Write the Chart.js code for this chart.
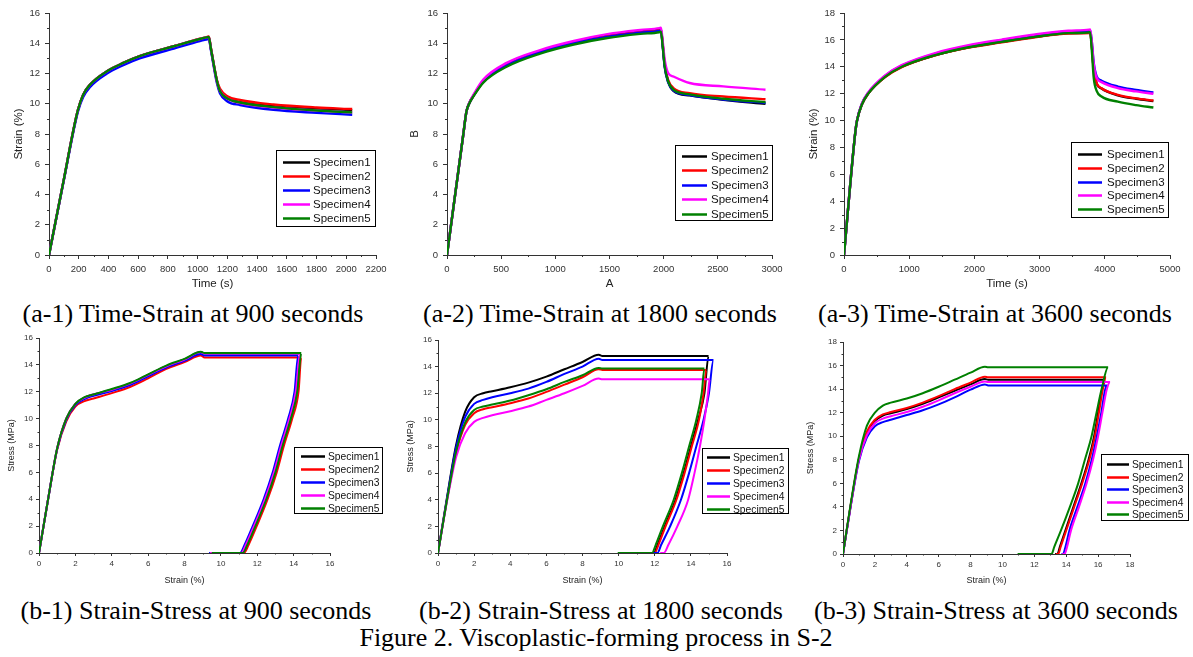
<!DOCTYPE html>
<html>
<head>
<meta charset="utf-8">
<script src="https://cdn.jsdelivr.net/npm/chart.js@4.4.1/dist/chart.umd.min.js"></script>
<style>
  body { margin: 0; background: #fff; }
  #fig { position: relative; width: 1193px; height: 657px; overflow: hidden; background: #fff; }
  #fig canvas { position: absolute; }
  .cap { position: absolute; font-family: "Liberation Serif", "Times New Roman", serif; font-size: 26px; line-height: 26px; white-space: nowrap; transform: translateX(-50%); color: #000; }
</style>
</head>
<body>
<div id="fig">
  <div class="cap" style="left:193px;top:301px">(a-1) Time-Strain at 900 seconds</div>
  <div class="cap" style="left:600px;top:301px">(a-2) Time-Strain at 1800 seconds</div>
  <div class="cap" style="left:995px;top:301px">(a-3) Time-Strain at 3600 seconds</div>
  <div class="cap" style="left:196px;top:598px">(b-1) Strain-Stress at 900 seconds</div>
  <div class="cap" style="left:601px;top:598px">(b-2) Strain-Stress at 1800 seconds</div>
  <div class="cap" style="left:996px;top:598px">(b-3) Strain-Stress at 3600 seconds</div>
  <div class="cap" style="left:596px;top:625px">Figure 2. Viscoplastic-forming process in S-2</div>
  <canvas id="a1" width="398" height="291" style="left:0;top:0"></canvas>
  <canvas id="a2" width="395" height="291" style="left:400px;top:0"></canvas>
  <canvas id="a3" width="398" height="291" style="left:795px;top:0"></canvas>
  <canvas id="b1" width="400" height="256" style="left:0;top:330px"></canvas>
  <canvas id="b2" width="395" height="256" style="left:400px;top:330px"></canvas>
  <canvas id="b3" width="398" height="256" style="left:795px;top:330px"></canvas>
</div>
<script>
// specimen names and line colours (same order in every panel)
const specimens = ['Specimen1', 'Specimen2', 'Specimen3', 'Specimen4', 'Specimen5'];
const colors = ['#000000', '#ff0000', '#0000ff', '#ff00ff', '#008000'];

// ---- time vs strain, 900 s hold ----
const a1Time = [0, 100, 165, 195, 230, 275, 390, 500, 610, 840, 1015, 1065, 1075, 1090, 1130, 1150, 1200, 1285, 1510, 1800, 2040];
const a1Strain = [
  [0, 5.0, 8.3, 9.6, 10.6, 11.25, 12.15, 12.7, 13.15, 13.8, 14.25, 14.37, 14.4, 13.6, 11.5, 10.85, 10.4, 10.1, 9.85, 9.68, 9.58],
  [0, 5.0, 8.3, 9.6, 10.6, 11.25, 12.15, 12.7, 13.15, 13.8, 14.3, 14.42, 14.45, 13.65, 11.55, 11.0, 10.5, 10.25, 9.95, 9.75, 9.65],
  [0, 4.95, 8.2, 9.5, 10.45, 11.1, 12.0, 12.55, 13.0, 13.65, 14.15, 14.26, 14.28, 13.5, 11.35, 10.7, 10.15, 9.92, 9.6, 9.4, 9.27],
  [0, 5.0, 8.3, 9.6, 10.6, 11.25, 12.15, 12.7, 13.15, 13.8, 14.28, 14.4, 14.42, 13.6, 11.45, 10.85, 10.35, 10.05, 9.75, 9.55, 9.43],
  [0, 5.0, 8.3, 9.6, 10.6, 11.25, 12.15, 12.7, 13.15, 13.8, 14.28, 14.4, 14.42, 13.6, 11.5, 10.85, 10.35, 10.08, 9.78, 9.55, 9.43]
];

// ---- time vs strain, 1800 s hold ----
const a2Time = [0, 150, 180, 210, 245, 335, 550, 860, 1170, 1480, 1785, 1960, 1975, 1990, 2010, 2040, 2090, 2240, 2550, 2940];
const a2Strain = [
  [0, 7.95, 9.5, 10.1, 10.55, 11.5, 12.58, 13.45, 14.05, 14.5, 14.78, 14.9, 14.93, 14.0, 12.5, 11.5, 10.86, 10.55, 10.26, 10.0],
  [0, 7.95, 9.5, 10.1, 10.53, 11.45, 12.52, 13.4, 14.0, 14.45, 14.72, 14.84, 14.87, 14.0, 12.55, 11.6, 11.04, 10.7, 10.48, 10.3],
  [0, 7.95, 9.5, 10.1, 10.53, 11.47, 12.52, 13.4, 14.0, 14.42, 14.7, 14.82, 14.85, 13.9, 12.4, 11.45, 10.88, 10.57, 10.28, 10.05],
  [0, 7.95, 9.5, 10.12, 10.6, 11.6, 12.7, 13.55, 14.15, 14.6, 14.88, 15.0, 15.03, 14.2, 12.9, 12.05, 11.8, 11.37, 11.15, 10.93],
  [0, 7.95, 9.5, 10.08, 10.5, 11.4, 12.45, 13.32, 13.92, 14.35, 14.62, 14.73, 14.76, 13.9, 12.45, 11.5, 10.93, 10.62, 10.33, 10.1]
];

// ---- time vs strain, 3600 s hold ----
const a3Time = [0, 175, 200, 270, 370, 630, 885, 1400, 1910, 2420, 2930, 3440, 3760, 3775, 3800, 3830, 3875, 3950, 4200, 4480, 4745];
const a3Strain = [
  [0, 9.2, 10.0, 11.15, 12.0, 13.25, 14.0, 14.87, 15.45, 15.85, 16.22, 16.5, 16.56, 16.58, 15.6, 13.8, 12.75, 12.38, 11.88, 11.62, 11.45],
  [0, 9.2, 10.0, 11.15, 12.0, 13.23, 13.97, 14.85, 15.42, 15.82, 16.2, 16.48, 16.51, 16.53, 15.6, 13.8, 12.78, 12.41, 11.91, 11.65, 11.49],
  [0, 9.2, 10.0, 11.2, 12.05, 13.32, 14.08, 14.97, 15.55, 15.97, 16.35, 16.63, 16.7, 16.72, 15.9, 14.3, 13.28, 12.96, 12.53, 12.28, 12.09],
  [0, 9.2, 10.0, 11.22, 12.08, 13.35, 14.12, 15.02, 15.6, 16.02, 16.4, 16.68, 16.76, 16.78, 15.9, 14.2, 13.18, 12.86, 12.41, 12.17, 11.99],
  [0, 9.2, 10.0, 11.15, 12.0, 13.25, 14.0, 14.87, 15.45, 15.85, 16.22, 16.5, 16.56, 16.58, 15.3, 13.2, 12.21, 11.79, 11.41, 11.15, 10.97]
];

// ---- strain vs stress loops ----
// loading branch strains (shared), hold at constant stress, unloading, recovery at zero stress
const loadStrain = [0, 0.5, 1, 1.5, 2, 2.5, 3, 4, 5, 6, 7, 8, 8.9, 9.1];

const b1LoadStress = [
  [0, 4.0, 7.8, 10.0, 11.1, 11.55, 11.8, 12.15, 12.6, 13.25, 13.9, 14.4, 14.95, 14.85],
  [0, 4.0, 7.7, 9.8, 10.9, 11.3, 11.5, 11.9, 12.35, 13.0, 13.7, 14.2, 14.7, 14.55],
  [0, 4.0, 7.75, 9.9, 11.0, 11.45, 11.7, 12.05, 12.5, 13.15, 13.8, 14.3, 14.8, 14.7],
  [0, 4.0, 7.8, 10.0, 11.1, 11.55, 11.8, 12.15, 12.6, 13.25, 13.9, 14.4, 14.95, 14.85],
  [0, 4.0, 7.8, 10.0, 11.1, 11.6, 11.8, 12.2, 12.65, 13.3, 13.95, 14.45, 14.97, 14.88]
];
const b1HoldEnd = [14.4, 14.42, 14.25, 14.35, 14.42];
const b1UnloadStress = [12, 10, 8, 6, 4, 2, 0.6, 0];
const b1UnloadStrain = [
  [14.17, 13.82, 13.37, 12.97, 12.47, 11.87, 11.42, 11.17],
  [14.27, 13.92, 13.47, 13.07, 12.57, 11.97, 11.52, 11.27],
  [14.05, 13.7, 13.25, 12.85, 12.35, 11.75, 11.3, 11.05],
  [14.12, 13.77, 13.32, 12.92, 12.42, 11.82, 11.37, 11.12],
  [14.2, 13.85, 13.4, 13.0, 12.5, 11.9, 11.45, 11.2]
];
const b1RecoveryEnd = [9.45, 10.5, 9.35, 9.4, 9.5];

const b2LoadStress = [
  [0, 4.2, 8.1, 10.6, 11.7, 12.0, 12.15, 12.45, 12.8, 13.25, 13.8, 14.35, 14.9, 14.8],
  [0, 4.0, 7.5, 9.6, 10.5, 10.8, 10.95, 11.25, 11.6, 12.1, 12.65, 13.2, 13.8, 13.75],
  [0, 4.1, 7.9, 10.2, 11.2, 11.5, 11.7, 12.0, 12.35, 12.85, 13.45, 14.0, 14.6, 14.5],
  [0, 3.9, 7.2, 9.0, 9.85, 10.15, 10.35, 10.65, 11.0, 11.5, 12.0, 12.55, 13.1, 13.05],
  [0, 4.0, 7.6, 9.8, 10.75, 11.0, 11.15, 11.45, 11.85, 12.3, 12.85, 13.35, 13.9, 13.85]
];
const b2HoldEnd = [14.98, 14.86, 15.25, 15.04, 14.75];
const b2UnloadStress = [12, 10, 8, 6, 4, 2, 0.6, 0];
const b2UnloadStrain = [
  [14.75, 14.4, 14.0, 13.6, 13.15, 12.55, 12.15, 11.95],
  [14.7, 14.45, 14.05, 13.65, 13.2, 12.6, 12.2, 12.0],
  [15.0, 14.7, 14.3, 13.9, 13.45, 12.85, 12.35, 12.15],
  [14.95, 14.75, 14.5, 14.2, 13.85, 13.25, 12.75, 12.5],
  [14.6, 14.3, 13.9, 13.5, 13.05, 12.45, 12.05, 11.85]
];
const b2RecoveryEnd = [11.4, 11.7, 11.9, 12.3, 9.95];

const b3LoadStress = [
  [0, 4.3, 8.1, 10.3, 11.3, 11.75, 11.95, 12.3, 12.75, 13.3, 13.85, 14.4, 14.85, 14.8],
  [0, 4.3, 8.1, 10.4, 11.4, 11.85, 12.05, 12.4, 12.85, 13.4, 14.0, 14.55, 15.05, 15.0],
  [0, 4.2, 7.9, 9.9, 10.85, 11.2, 11.4, 11.8, 12.2, 12.7, 13.3, 13.95, 14.4, 14.3],
  [0, 4.2, 8.0, 10.1, 11.1, 11.5, 11.7, 12.05, 12.5, 13.05, 13.65, 14.2, 14.65, 14.6],
  [0, 4.4, 8.3, 10.9, 12.0, 12.6, 12.85, 13.2, 13.65, 14.2, 14.8, 15.4, 15.9, 15.85]
];
const b3HoldEnd = [16.4, 16.5, 16.6, 16.75, 16.63];
const b3UnloadStress = [14, 12, 10, 8, 6, 4, 2, 0.6, 0];
const b3UnloadStrain = [
  [16.25, 16.0, 15.75, 15.4, 14.95, 14.45, 13.95, 13.6, 13.45],
  [16.3, 16.05, 15.8, 15.45, 15.0, 14.5, 14.0, 13.65, 13.5],
  [16.45, 16.2, 15.92, 15.6, 15.2, 14.7, 14.2, 13.95, 13.8],
  [16.55, 16.27, 16.0, 15.68, 15.28, 14.8, 14.3, 14.05, 13.9],
  [16.22, 15.9, 15.59, 15.17, 14.75, 14.23, 13.67, 13.25, 13.08]
];
const b3RecoveryEnd = [13.3, 13.35, 13.7, 13.75, 10.95];

// turn x list + y list into {x, y} points
function pairUp(xs, ys) {
  return xs.map((x, i) => ({ x: x, y: ys[i] }));
}

// one loop: load -> hold -> unload -> recover
function loopPoints(load, holdEnd, unloadStress, unloadStrain, recoveryEnd) {
  const pts = pairUp(loadStrain, load);
  const hold = load[load.length - 1];
  pts.push({ x: holdEnd, y: hold });
  unloadStress.forEach((s, i) => pts.push({ x: unloadStrain[i], y: s }));
  pts.push({ x: recoveryEnd, y: 0 });
  return pts;
}

// framed legend drawn inside the plot
const boxLegend = {
  id: 'boxLegend',
  afterDatasetsDraw(chart, args, o) {
    const ctx = chart.ctx;
    ctx.save();
    ctx.fillStyle = '#fff';
    ctx.fillRect(o.x, o.y, o.w, o.h);
    ctx.strokeStyle = '#000';
    ctx.lineWidth = 1;
    ctx.strokeRect(o.x + 0.5, o.y + 0.5, o.w, o.h);
    ctx.font = o.size + 'px "Liberation Sans", Arial, sans-serif';
    ctx.textBaseline = 'middle';
    ctx.textAlign = 'left';
    chart.data.datasets.forEach((ds, i) => {
      const y = Math.round(o.row0 + i * o.step) + 0.5;
      ctx.strokeStyle = ds.borderColor;
      ctx.lineWidth = 2.5;
      ctx.beginPath();
      ctx.moveTo(o.s0, y);
      ctx.lineTo(o.s1, y);
      ctx.stroke();
      ctx.fillStyle = '#111';
      ctx.fillText(ds.label, o.tx, y + 0.5);
    });
    ctx.restore();
  }
};

// short minor ticks halfway between the major ones
const minorTicks = {
  id: 'minorTicks',
  afterDraw(chart, args, o) {
    const ctx = chart.ctx;
    const area = chart.chartArea;
    const xs = chart.scales.x, ys = chart.scales.y;
    ctx.save();
    ctx.strokeStyle = '#333';
    ctx.lineWidth = 1;
    ctx.beginPath();
    for (let i = 1; i < xs.ticks.length; i++) {
      const px = Math.round(xs.getPixelForValue((xs.ticks[i - 1].value + xs.ticks[i].value) / 2)) + 0.5;
      ctx.moveTo(px, area.bottom);
      ctx.lineTo(px, area.bottom + o.len);
    }
    for (let i = 1; i < ys.ticks.length; i++) {
      const py = Math.round(ys.getPixelForValue((ys.ticks[i - 1].value + ys.ticks[i].value) / 2)) + 0.5;
      ctx.moveTo(area.left, py);
      ctx.lineTo(area.left - o.len, py);
    }
    ctx.stroke();
    ctx.restore();
  }
};

function axis(max, step, title, size, horizontal, t) {
  return {
    type: 'linear',
    min: 0,
    max: max,
    ticks: {
      stepSize: step,
      autoSkip: false,
      maxRotation: 0,
      color: '#333',
      padding: t.tickPad,
      font: { family: 'Liberation Sans', size: t.tick },
      callback: v => String(v)
    },
    grid: { drawOnChartArea: false, drawTicks: true, tickLength: t.tickLen, tickColor: '#333', tickWidth: 1 },
    border: { display: true, color: '#333', width: 1 },
    title: { display: true, text: title, color: '#222', padding: 0, font: { family: 'Liberation Sans', size: t.title } },
    afterFit: s => { if (horizontal) s.height = size; else s.width = size; }
  };
}

const topText = { tick: 9.5, title: 11.5, tickPad: 5, tickLen: 4 };
const bottomText = { tick: 8, title: 9, tickPad: 3, tickLen: 3 };

function makeChart(id, c) {
  const ctx = document.getElementById(id).getContext('2d');
  return new Chart(ctx, {
    type: 'line',
    data: {
      datasets: c.series.map((pts, i) => ({
        label: specimens[i],
        data: pts,
        borderColor: colors[i],
        backgroundColor: colors[i],
        borderWidth: c.lineWidth,
        pointRadius: 0,
        fill: false,
        tension: 0,
        cubicInterpolationMode: 'monotone',
        order: 4 - i
      }))
    },
    options: {
      responsive: false,
      animation: false,
      devicePixelRatio: 1,
      layout: { padding: c.pad },
      plugins: {
        legend: { display: false },
        tooltip: { enabled: false },
        boxLegend: c.legend,
        minorTicks: { len: c.text.tickLen / 2 }
      },
      scales: {
        x: axis(c.xMax, c.xStep, c.xTitle, c.xH, true, c.text),
        y: axis(c.yMax, c.yStep, c.yTitle, c.yW, false, c.text)
      }
    },
    plugins: [boxLegend, minorTicks]
  });
}

makeChart('a1', {
  series: a1Strain.map(s => pairUp(a1Time, s)), lineWidth: 2.4, text: topText,
  xMax: 2200, xStep: 200, xTitle: 'Time (s)', xH: 36,
  yMax: 16, yStep: 2, yTitle: 'Strain (%)', yW: 37,
  pad: { left: 12, top: 13, right: 22, bottom: 0 },
  legend: { x: 276, y: 150, w: 99, h: 76, row0: 162, step: 14, s0: 283, s1: 310, tx: 313, size: 11.5 }
});

makeChart('a2', {
  series: a2Strain.map(s => pairUp(a2Time, s)), lineWidth: 2.4, text: topText,
  xMax: 3000, xStep: 500, xTitle: 'A', xH: 36,
  yMax: 16, yStep: 2, yTitle: 'B', yW: 39,
  pad: { left: 8, top: 13, right: 23, bottom: 0 },
  legend: { x: 275, y: 145, w: 97, h: 75, row0: 156, step: 14.4, s0: 282, s1: 307, tx: 311, size: 11.5 }
});

makeChart('a3', {
  series: a3Strain.map(s => pairUp(a3Time, s)), lineWidth: 2.4, text: topText,
  xMax: 5000, xStep: 1000, xTitle: 'Time (s)', xH: 36,
  yMax: 18, yStep: 2, yTitle: 'Strain (%)', yW: 37,
  pad: { left: 12, top: 13, right: 23, bottom: 0 },
  legend: { x: 276, y: 142, w: 97, h: 75, row0: 154, step: 13.8, s0: 283, s1: 307, tx: 312, size: 11.5 }
});

makeChart('b1', {
  series: b1LoadStress.map((s, i) => loopPoints(s, b1HoldEnd[i], b1UnloadStress, b1UnloadStrain[i], b1RecoveryEnd[i])),
  lineWidth: 2, text: bottomText,
  xMax: 16, xStep: 2, xTitle: 'Strain (%)', xH: 33,
  yMax: 16, yStep: 2, yTitle: 'Stress (MPa)', yW: 33,
  pad: { left: 6, top: 8, right: 70, bottom: 0 },
  legend: { x: 294, y: 117, w: 88, h: 66, row0: 126, step: 13.1, s0: 301, s1: 325, tx: 328, size: 10.3 }
});

makeChart('b2', {
  series: b2LoadStress.map((s, i) => loopPoints(s, b2HoldEnd[i], b2UnloadStress, b2UnloadStrain[i], b2RecoveryEnd[i])),
  lineWidth: 2, text: bottomText,
  xMax: 16, xStep: 2, xTitle: 'Strain (%)', xH: 33,
  yMax: 16, yStep: 2, yTitle: 'Stress (MPa)', yW: 33,
  pad: { left: 5, top: 10, right: 68, bottom: 0 },
  legend: { x: 302, y: 118, w: 86, h: 65, row0: 127, step: 12.9, s0: 307, s1: 330, tx: 333, size: 10.3 }
});

makeChart('b3', {
  series: b3LoadStress.map((s, i) => loopPoints(s, b3HoldEnd[i], b3UnloadStress, b3UnloadStrain[i], b3RecoveryEnd[i])),
  lineWidth: 2, text: bottomText,
  xMax: 18, xStep: 2, xTitle: 'Strain (%)', xH: 32,
  yMax: 18, yStep: 2, yTitle: 'Stress (MPa)', yW: 38,
  pad: { left: 10, top: 12, right: 63, bottom: 0 },
  legend: { x: 306, y: 124, w: 87, h: 66, row0: 134, step: 12.6, s0: 312, s1: 334, tx: 337, size: 10.3 }
});
</script>
</body>
</html>
